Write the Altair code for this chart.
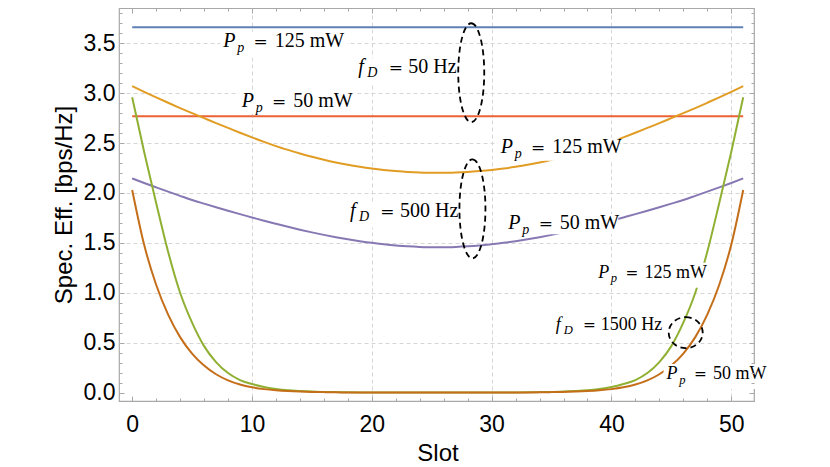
import altair as alt
import pandas as pd

# ---------------- data ----------------
slot = list(range(52))
flat_slot = [0, 51]

se_50hz_125mw = [3.66, 3.66]
se_50hz_50mw = [2.77, 2.77]

se_500hz_125mw = [3.07, 3.013, 2.958, 2.904, 2.851, 2.80, 2.75, 2.70, 2.652, 2.604,
                  2.557, 2.512, 2.47, 2.432, 2.396, 2.363, 2.333, 2.306, 2.282, 2.262,
                  2.245, 2.231, 2.22, 2.211, 2.205, 2.202,
                  2.202, 2.205, 2.211, 2.22, 2.231, 2.245, 2.262, 2.282, 2.306, 2.333,
                  2.363, 2.396, 2.432, 2.47, 2.512, 2.557, 2.604, 2.652, 2.70, 2.75,
                  2.80, 2.851, 2.904, 2.958, 3.013, 3.07]

se_500hz_50mw = [2.146, 2.10, 2.056, 2.013, 1.971, 1.93, 1.893, 1.857, 1.822, 1.788,
                 1.755, 1.722, 1.691, 1.661, 1.632, 1.605, 1.58, 1.557, 1.536, 1.517,
                 1.50, 1.486, 1.474, 1.465, 1.459, 1.456,
                 1.456, 1.459, 1.465, 1.474, 1.486, 1.50, 1.517, 1.536, 1.557, 1.58,
                 1.605, 1.632, 1.661, 1.691, 1.722, 1.755, 1.788, 1.822, 1.857, 1.893,
                 1.93, 1.971, 2.013, 2.056, 2.10, 2.146]

se_1500hz_125mw = [2.96, 2.41, 1.90, 1.41, 1.00, 0.70, 0.465, 0.305, 0.195, 0.125,
                   0.085, 0.055, 0.036, 0.023, 0.015, 0.009, 0.006, 0.004, 0.002, 0.001,
                   0.0, 0.0, 0.0, 0.0, 0.0, 0.0,
                   0.0, 0.0, 0.0, 0.0, 0.0, 0.0, 0.001, 0.002, 0.004, 0.006,
                   0.009, 0.015, 0.023, 0.036, 0.055, 0.085, 0.125, 0.195, 0.305, 0.465,
                   0.70, 1.00, 1.41, 1.90, 2.41, 2.96]

se_1500hz_50mw = [2.03, 1.48, 1.08, 0.78, 0.555, 0.39, 0.27, 0.183, 0.122, 0.08,
                  0.052, 0.034, 0.022, 0.014, 0.009, 0.006, 0.004, 0.002, 0.001, 0.0,
                  0.0, 0.0, 0.0, 0.0, 0.0, 0.0,
                  0.0, 0.0, 0.0, 0.0, 0.0, 0.0, 0.0, 0.001, 0.002, 0.004,
                  0.006, 0.009, 0.014, 0.022, 0.034, 0.052, 0.08, 0.122, 0.183, 0.27,
                  0.39, 0.555, 0.78, 1.08, 1.48, 2.03]

series_names = ["50 Hz, 125 mW", "50 Hz, 50 mW", "500 Hz, 125 mW",
                "500 Hz, 50 mW", "1500 Hz, 125 mW", "1500 Hz, 50 mW"]
series_colors = ["#5E81B5", "#EB6235", "#E19C24", "#8778B3", "#8FB032", "#C56E1A"]

x_major = [0, 10, 20, 30, 40, 50]
x_grid_vals = [10, 20, 30, 40, 50]
x_minor = [v for v in range(2, 52, 2) if v % 10 != 0]
y_major = [0.0, 0.5, 1.0, 1.5, 2.0, 2.5, 3.0, 3.5]
y_grid_vals = [0.5, 1.0, 1.5, 2.0, 2.5, 3.0, 3.5]
y_minor = [round(k / 10, 1) for k in range(1, 39) if k % 5 != 0]

# annotation labels (anchor = left end of baseline)
lab_x = [7.60, 9.14, 18.87, 30.76, 18.18, 31.39, 38.90, 35.35, 44.60]
lab_y = [3.466, 2.865, 3.199, 2.404, 1.762, 1.636, 1.151, 0.626, 0.135]
lab_sym = ["P", "P", "f", "P", "f", "P", "P", "f", "P"]
lab_sub = ["p", "p", "D", "p", "D", "p", "p", "D", "p"]
lab_val = ["125 mW", "50 mW", "50 Hz", "125 mW", "500 Hz", "50 mW", "125 mW", "1500 Hz", "50 mW"]
lab_fs = [20, 20, 20, 20, 20, 20, 18, 18, 18]
lab_box_w = [124, 114, 101, 118, 107, 110, 111, 111, 108]
lab_box_below = [11, 7, 11, 8, 11, 5, 10, 10, 10]

# dashed ellipses
ell_big_x = [28.3, 28.4]
ell_big_y = [3.205, 1.841]
ell_small_x = [46.2]
ell_small_y = [0.60]

# ---------------- build tables ----------------
rows = []
for name, xs_, ys_ in zip(series_names,
                          [flat_slot, flat_slot, slot, slot, slot, slot],
                          [se_50hz_125mw, se_50hz_50mw, se_500hz_125mw,
                           se_500hz_50mw, se_1500hz_125mw, se_1500hz_50mw]):
    for a, b in zip(xs_, ys_):
        rows.append({"series": name, "slot": a, "se": b})
curves = pd.DataFrame(rows)

W, H = 635, 393
XD = [-1.10, 51.90]
YD = [-0.085, 3.854]
PX_X = W / (XD[1] - XD[0])
PX_Y = H / (YD[1] - YD[0])

labels = pd.DataFrame({"lx": lab_x, "ly": lab_y, "sym": lab_sym,
                       "sub": lab_sub, "val": lab_val, "fs": lab_fs})
labels["rx1"] = labels["lx"] - 3 / PX_X
labels["rx2"] = labels["lx"] + pd.Series(lab_box_w) / PX_X
labels["ry1"] = labels["ly"] - pd.Series(lab_box_below) / PX_Y
labels["ry2"] = labels["ly"] + 15 / PX_Y

ell_big = pd.DataFrame({"ex": ell_big_x, "ey": ell_big_y})
ell_small = pd.DataFrame({"ex": ell_small_x, "ey": ell_small_y})

xs = alt.Scale(domain=XD, nice=False, zero=False)
ys = alt.Scale(domain=YD, nice=False, zero=False)

AX = "#a8a8a8"
SANS = "Liberation Sans"
SERIF = "Liberation Serif"


def X(f, axis=None):
    return alt.X(f, type="quantitative", scale=xs, axis=axis)


def Y(f, axis=None):
    return alt.Y(f, type="quantitative", scale=ys, axis=axis)


def carrier(xa, ya):
    return alt.Chart(curves.head(2)).mark_point(opacity=0).encode(
        x=X("slot", xa), y=Y("se", ya))


def tick_axis(orient, vals, size):
    return alt.Axis(orient=orient, values=vals, offset=-size, tickSize=size,
                    tickColor=AX, tickWidth=1, domain=False, labels=False,
                    grid=False, title=None, zindex=1)


x_grid = alt.Axis(orient="bottom", values=x_grid_vals, domain=False, labels=False,
                  ticks=False, grid=True, gridColor="#d6d6d6", gridDash=[4, 3],
                  gridWidth=1, title=None, zindex=0)
y_grid = alt.Axis(orient="left", values=y_grid_vals, domain=False, labels=False,
                  ticks=False, grid=True, gridColor="#d6d6d6", gridDash=[4, 3],
                  gridWidth=1, title=None, zindex=0)

x_main = alt.Axis(orient="bottom", values=x_major, format="d", domain=False,
                  ticks=False, tickSize=0, grid=False, labelFont=SANS,
                  labelFontSize=23, labelColor="black", labelPadding=30,
                  labelBaseline="alphabetic", labelFlush=False, labelOverlap=False,
                  title="Slot", titleFont=SANS, titleFontSize=24,
                  titleFontWeight="normal", titleColor="black",
                  titleX=W / 2 + 1, titleY=59, titleBaseline="alphabetic",
                  titleAlign="center", zindex=1)
y_main = alt.Axis(orient="left", values=y_major, format=".1f", domain=False,
                  ticks=False, tickSize=0, grid=False, labelFont=SANS,
                  labelFontSize=23, labelColor="black", labelPadding=4,
                  labelFlush=False, labelOverlap=False,
                  title="Spec. Eff. [bps/Hz]", titleFont=SANS, titleFontSize=24,
                  titleFontWeight="normal", titleColor="black",
                  titlePadding=7, zindex=1)

grid_layer = carrier(x_grid, y_grid)
main_layer = carrier(x_main, y_main)
t1 = carrier(tick_axis("bottom", x_major, 5), tick_axis("left", y_major, 5))
t2 = carrier(tick_axis("bottom", x_minor, 3), tick_axis("left", y_minor, 3))
t3 = carrier(tick_axis("top", x_major, 5), tick_axis("right", y_major, 5))
t4 = carrier(tick_axis("top", x_minor, 3), tick_axis("right", y_minor, 3))

lines = alt.Chart(curves).mark_line(strokeWidth=2, interpolate="monotone").encode(
    x=X("slot"), y=Y("se"),
    color=alt.Color("series:N", scale=alt.Scale(domain=series_names, range=series_colors),
                    legend=None),
    detail="series:N",
)

bg = alt.Chart(labels).mark_rect(color="white", opacity=1).encode(
    x=X("rx1"), x2="rx2", y=Y("ry1"), y2="ry2")


def label_layers(df, fs):
    r = fs / 20.0
    txt = dict(align="left", baseline="alphabetic", color="black", font=SERIF)
    out = []
    out.append(alt.Chart(df).mark_text(fontSize=fs, fontStyle="italic", **txt).encode(
        x=X("lx"), y=Y("ly"), text="sym:N"))
    dp = df[df["sub"] == "p"]
    if len(dp):
        out.append(alt.Chart(dp).mark_text(fontSize=14 * r, fontStyle="italic",
                                           dx=14 * r, dy=5 * r, **txt).encode(
            x=X("lx"), y=Y("ly"), text="sub:N"))
    dd = df[df["sub"] == "D"]
    if len(dd):
        out.append(alt.Chart(dd).mark_text(fontSize=14 * r, fontStyle="italic",
                                           dx=9 * r, dy=4 * r, **txt).encode(
            x=X("lx"), y=Y("ly"), text="sub:N"))
    out.append(alt.Chart(df).mark_text(fontSize=17 * r, dx=37.5 * r, align="center",
                                       baseline="alphabetic", color="black",
                                       font="DejaVu Serif").encode(
        x=X("lx"), y=Y("ly"), text=alt.value("=")))
    vp = df[df["sym"] == "P"]
    if len(vp):
        out.append(alt.Chart(vp).mark_text(fontSize=fs, dx=51.5 * r, **txt).encode(
            x=X("lx"), y=Y("ly"), text="val:N"))
    vf = df[df["sym"] == "f"]
    if len(vf):
        out.append(alt.Chart(vf).mark_text(fontSize=fs, dx=50 * r, **txt).encode(
            x=X("lx"), y=Y("ly"), text="val:N"))
    return out


text_layers = label_layers(labels[labels["fs"] == 20], 20) + \
    label_layers(labels[labels["fs"] == 18], 18)

a = 26 / 99
k = 0.5523
tall_path = (f"M 0 -1 C {k*a:.4f} -1 {a:.4f} -{k} {a:.4f} 0 "
             f"C {a:.4f} {k} {k*a:.4f} 1 0 1 "
             f"C -{k*a:.4f} 1 -{a:.4f} {k} -{a:.4f} 0 "
             f"C -{a:.4f} -{k} -{k*a:.4f} -1 0 -1 Z")
b = 31 / 34
round_path = (f"M 0 -{b:.4f} C {k} -{b:.4f} 1 -{k*b:.4f} 1 0 "
              f"C 1 {k*b:.4f} {k} {b:.4f} 0 {b:.4f} "
              f"C -{k} {b:.4f} -1 {k*b:.4f} -1 0 "
              f"C -1 -{k*b:.4f} -{k} -{b:.4f} 0 -{b:.4f} Z")

e_big = alt.Chart(ell_big).mark_point(shape=tall_path, size=99 * 99, filled=False,
                                      stroke="black", strokeWidth=1.8,
                                      strokeDash=[6, 4], opacity=1).encode(
    x=X("ex"), y=Y("ey"))
e_small = alt.Chart(ell_small).mark_point(shape=round_path, size=34 * 34, filled=False,
                                          stroke="black", strokeWidth=1.8,
                                          strokeDash=[6, 4], opacity=1).encode(
    x=X("ex"), y=Y("ey"))

chart = alt.layer(
    grid_layer, lines, bg, *text_layers,
    e_big, e_small, main_layer, t1, t2, t3, t4,
).resolve_axis(x="independent", y="independent").properties(
    width=W, height=H,
    padding={"left": 111, "top": 0, "right": 68, "bottom": 65},
    autosize=alt.AutoSizeParams(type="none"),
).configure_view(stroke=AX, strokeWidth=1.2)

chart.save("out.html", embed_options={"renderer": "svg", "actions": False})
